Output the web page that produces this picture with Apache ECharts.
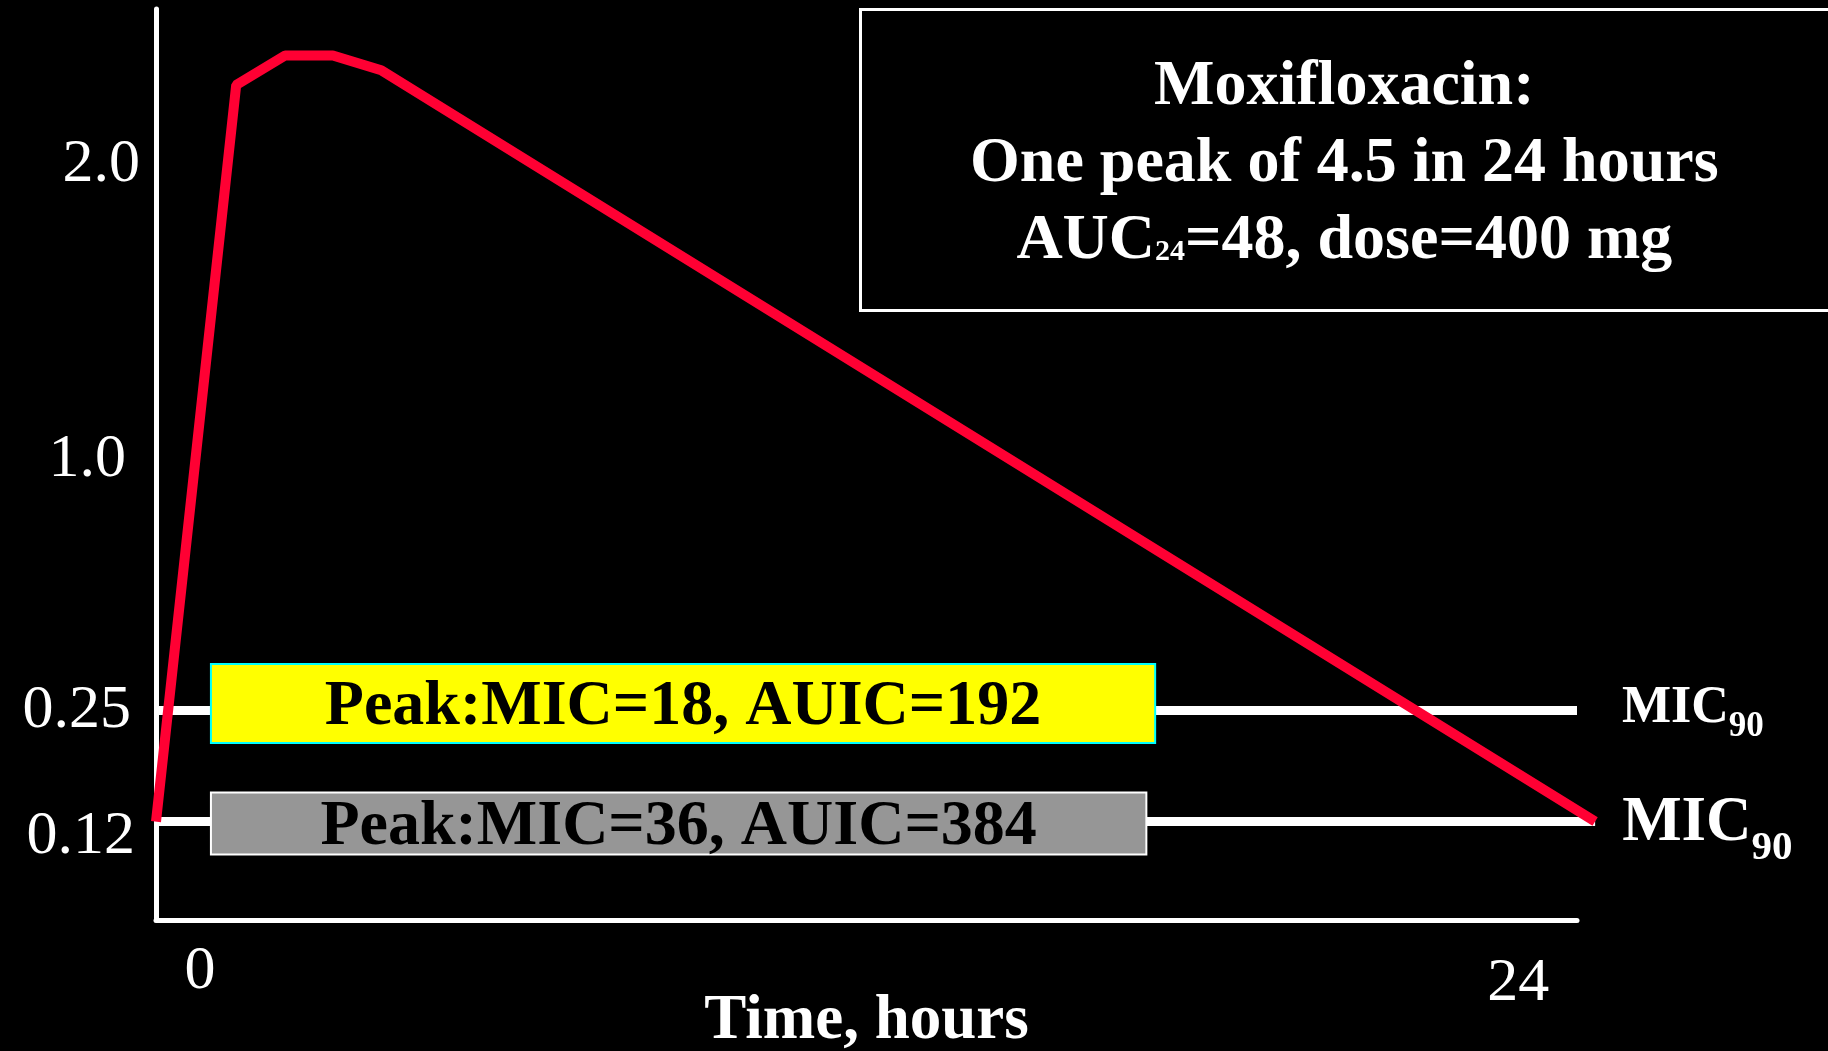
<!DOCTYPE html>
<html>
<head>
<meta charset="utf-8">
<script src="https://cdn.jsdelivr.net/npm/echarts@6/dist/echarts.min.js"></script>
<style>
  html, body { margin: 0; padding: 0; background: #000; }
  #chart { width: 1828px; height: 1051px; }
</style>
</head>
<body>
<div id="chart"></div>
<script>
// Serum concentration curve: time (hours) and concentration
const curveHours = [-0.80, 0.66, 1.55, 2.42, 3.30, 25.40];
const curveConc  = [0.12, 2.27, 2.37, 2.37, 2.32, 0.12];

// MIC90 reference levels and the time at which each reference line stops
const micLevels  = [0.25, 0.12];
const micLineEnd = [25.07, 25.40];
const micLabels  = ['MIC', 'MIC'];
const micSub     = '90';

// Text boxes resting on each MIC level (start / end time)
const boxTexts = ['Peak:MIC=18, AUIC=192', 'Peak:MIC=36, AUIC=384'];
const boxStart = [0.20, 0.20];
const boxEnd   = [17.39, 17.23];

// Axis ticks
const yTickValues = [0.12, 0.25, 1.0, 2.0];
const yTickLabels = ['0.12', '0.25', '1.0', '2.0'];
const xTickValues = [0, 24];
const xTickLabels = ['0', '24'];
const xRange = [-0.80, 25.07];

// Header text
const headLines = ['Moxifloxacin:', 'One peak of 4.5 in 24 hours'];
const headAuc = ['AUC', '24', '=48, dose=400 mg'];

// The vertical axis is a stretched, piecewise-linear scale: each tick
// concentration sits at a fixed share (0..100) of the axis height.
const SCALE_KNOTS = [[0.12, 10.8], [0.25, 23.0], [1.0, 50.5], [2.0, 82.9]];
function toLevel(c) {
  const k = SCALE_KNOTS;
  let i = 0;
  while (i < k.length - 2 && c > k[i + 1][0]) i++;
  const [c0, l0] = k[i], [c1, l1] = k[i + 1];
  return l0 + (c - c0) * (l1 - l0) / (c1 - c0);
}

const FONT = '"Liberation Serif", "Times New Roman", serif';

// Frame grid (visible axes) and a plotting grid sharing the same hour scale,
// widened on the right so the curve can run a little past the time axis.
const W = 1828;
const frame = { left: 156, right: 251, top: 9, bottom: 131 };
const pxPerHour = (W - frame.left - frame.right) / (xRange[1] - xRange[0]);
const plotMax = Math.max(...curveHours, ...micLineEnd);
const plotRight = frame.right - (plotMax - xRange[1]) * pxPerHour;

// y tick label nudges (top padding, right padding)
const yLabelPad = [[30, 5], [0, 9], [0, 14], [0, 0]];
const yRich = {};
yTickLabels.forEach((_, i) => {
  yRich['y' + i] = {
    fontFamily: FONT, fontSize: 62, color: '#fff',
    padding: [yLabelPad[i][0], yLabelPad[i][1], 0, 0]
  };
});
const xRich = {
  x0: { fontFamily: FONT, fontSize: 62, color: '#fff', padding: [0, 0, 0, 0] },
  x1: { fontFamily: FONT, fontSize: 62, color: '#fff', padding: [12, 0, 0, 0] }
};

const micLook = [
  { main: 52, sub: 35, drop: 10, distance: 45, offset: 2.7 },
  { main: 63, sub: 41, drop: 13, distance: 27, offset: 9 }
];

const micSeries = micLevels.map((c, i) => ({
  type: 'line',
  name: 'MIC90 ' + c,
  xAxisIndex: 1,
  yAxisIndex: 1,
  silent: true,
  z: 2,
  symbol: 'none',
  data: [[xRange[0], toLevel(c)], [micLineEnd[i], toLevel(c)]],
  lineStyle: { color: '#fff', width: 9, cap: 'butt' },
  endLabel: {
    show: true,
    distance: micLook[i].distance,
    offset: [0, micLook[i].offset],
    formatter: '{m|' + micLabels[i] + '}{s|' + micSub + '}',
    rich: {
      m: {
        fontFamily: FONT, fontWeight: 'bold', fontSize: micLook[i].main, color: '#fff',
        padding: [0, 0, micLook[i].drop, 0], verticalAlign: 'bottom'
      },
      s: {
        fontFamily: FONT, fontWeight: 'bold', fontSize: micLook[i].sub, color: '#fff',
        verticalAlign: 'bottom'
      }
    }
  }
}));

const boxLook = [
  { fill: '#ffff00', stroke: '#00ffff', above: 46.5, height: 79, textShift: 4 },
  { fill: '#969696', stroke: '#ffffff', above: 29, height: 62, textShift: 4 }
];

const boxSeries = {
  type: 'custom',
  xAxisIndex: 1,
  yAxisIndex: 1,
  z: 3,
  silent: true,
  clip: false,
  data: boxTexts.map((_, i) => [boxStart[i], boxEnd[i], toLevel(micLevels[i])]),
  encode: { x: [0, 1], y: 2 },
  renderItem: (params, api) => {
    const i = params.dataIndex;
    const look = boxLook[i];
    const a = api.coord([api.value(0), api.value(2)]);
    const b = api.coord([api.value(1), api.value(2)]);
    const top = a[1] - look.above;
    return {
      type: 'group',
      children: [
        {
          type: 'rect',
          shape: { x: a[0], y: top, width: b[0] - a[0], height: look.height },
          style: { fill: look.fill, stroke: look.stroke, lineWidth: 2 }
        },
        {
          type: 'text',
          style: {
            text: boxTexts[i],
            x: (a[0] + b[0]) / 2,
            y: top + look.height / 2 + look.textShift,
            align: 'center',
            verticalAlign: 'middle',
            fill: '#000',
            fontSize: 64,
            fontWeight: 'bold',
            fontFamily: FONT
          }
        }
      ]
    };
  }
};

const curveSeries = {
  type: 'line',
  name: 'Moxifloxacin',
  xAxisIndex: 1,
  yAxisIndex: 1,
  silent: true,
  z: 5,
  symbol: 'none',
  data: curveHours.map((t, i) => [t, toLevel(curveConc[i])]),
  lineStyle: { color: '#ff0033', width: 10, join: 'bevel', cap: 'butt' }
};

const headRich = {
  t: { align: 'center', verticalAlign: 'middle', fontFamily: FONT, fontWeight: 'bold', fontSize: 64, lineHeight: 77, color: '#fff' },
  s: { align: 'center', verticalAlign: 'middle', fontFamily: FONT, fontWeight: 'bold', fontSize: 30, color: '#fff', padding: [21, 0, 0, 0] }
};
const headText = headLines.map(l => '{t|' + l + '}').join('\n') + '\n' +
  '{t|' + headAuc[0] + '}{s|' + headAuc[1] + '}{t|' + headAuc[2] + '}';

const hiddenAxis = { type: 'value', show: false, splitLine: { show: false } };

const option = {
  backgroundColor: '#000',
  animation: false,
  title: {
    text: headText,
    left: 860,
    top: 3,
    textAlign: 'left',
    padding: [46, 150, 37, 110],
    borderColor: '#fff',
    borderWidth: 3,
    textStyle: { rich: headRich }
  },
  grid: [
    { ...frame, outerBoundsMode: 'none', containLabel: false },
    { left: frame.left, right: plotRight, top: frame.top, bottom: frame.bottom, outerBoundsMode: 'none', containLabel: false }
  ],
  xAxis: [
    {
      type: 'value',
      gridIndex: 0,
      min: xRange[0],
      max: xRange[1],
      splitLine: { show: false },
      axisTick: { show: false },
      axisLine: { show: true, onZero: false, lineStyle: { color: '#fff', width: 5 } },
      axisLabel: {
        customValues: xTickValues,
        margin: 21,
        formatter: v => {
          const i = xTickValues.indexOf(v);
          return i < 0 ? '' : '{x' + i + '|' + xTickLabels[i] + '}';
        },
        rich: xRich
      },
      name: 'Time, hours',
      nameLocation: 'middle',
      nameGap: 70,
      nameMoveOverlap: false,
      nameTextStyle: { color: '#fff', fontFamily: FONT, fontWeight: 'bold', fontSize: 63, lineHeight: 63 }
    },
    { ...hiddenAxis, gridIndex: 1, min: xRange[0], max: plotMax }
  ],
  yAxis: [
    {
      type: 'value',
      gridIndex: 0,
      min: 0,
      max: 100,
      splitLine: { show: false },
      axisTick: { show: false },
      axisLine: { show: true, onZero: false, lineStyle: { color: '#fff', width: 5 } },
      axisLabel: {
        customValues: yTickValues.map(toLevel),
        margin: 16,
        formatter: v => {
          const i = yTickValues.findIndex(c => Math.abs(toLevel(c) - v) < 1e-6);
          return i < 0 ? '' : '{y' + i + '|' + yTickLabels[i] + '}';
        },
        rich: yRich
      }
    },
    { ...hiddenAxis, gridIndex: 1, min: 0, max: 100 }
  ],
  series: [...micSeries, boxSeries, curveSeries]
};

const chart = echarts.init(document.getElementById('chart'));
chart.setOption(option);
</script>
</body>
</html>
